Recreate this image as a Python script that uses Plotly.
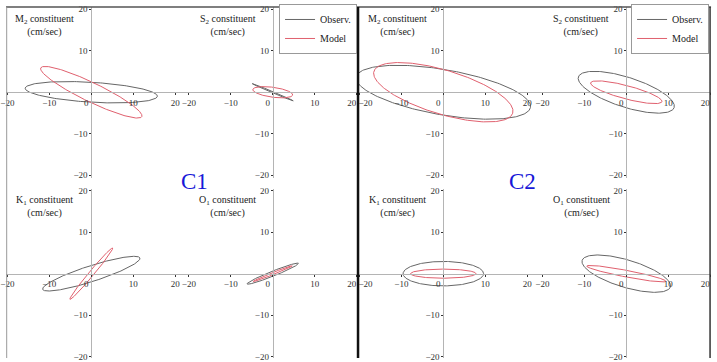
import numpy as np
import plotly.graph_objects as go

# ---------------- data (tidal current ellipse parameters, cm/sec, degrees) ----------------
panel_titles = ["M<sub>2</sub> constituent", "S<sub>2</sub> constituent",
                "M<sub>2</sub> constituent", "S<sub>2</sub> constituent",
                "K<sub>1</sub> constituent", "O<sub>1</sub> constituent",
                "K<sub>1</sub> constituent", "O<sub>1</sub> constituent"]
units_label = "(cm/sec)"
obs_major = [15.8, 5.3, 21.1, 12.0, 12.2, 6.6, 9.6, 11.0]
obs_minor = [2.4, 0.15, 5.45, 3.6, 1.9, 0.6, 2.95, 3.3]
obs_incl = [-3.5, -23.0, -10.0, -18.0, 18.0, 22.0, 0.0, -17.0]
mod_major = [13.4, 4.8, 17.3, 8.8, 8.0, 5.0, 7.8, 9.6]
mod_minor = [2.3, 1.2, 5.3, 1.6, 0.6, 0.25, 1.1, 0.8]
mod_incl = [-26.0, -8.0, -17.0, -15.0, 50.5, 22.0, 0.0, -11.0]
x_tickvals = [-20, -10, 0, 10, 20]
y_tickvals = [-20, -10, 10, 20]
station_labels = ["C1", "C2"]
series_names = ["Observ.", "Model"]

# ---------------- geometry ----------------
W, H = 717, 362
SC = 4.23  # px per unit
col_px = [(0, 177.5, 86), (177.5, 355, 269), (355, 536, 441), (536, 711, 625.5)]
row_px = [(4, 178, 91), (190, 362, 276)]
title_x = [-11.2, -10.7, -11.0, -10.7]

FONT = "Liberation Serif"
OBS_C = "#666666"
MOD_C = "#e0606e"
AX_C = "#b4b4b4"
TICKFONT = dict(family=FONT, size=9, color="#333")


def fmt(v):
    return ("\u2212" if v < 0 else "") + str(abs(v))


def shifted_groups(col):
    """Tick labels that sit slightly off their tick (to clear axes / panel edges)."""
    left = [0] + ([20] if col in (1, 3) else [])
    groups = [(-5, left)]
    if col == 2:
        groups.append((6, [-20]))
    return groups


def ellipse(a, b, inc):
    t = np.linspace(0, 2 * np.pi, 241)
    th = np.deg2rad(inc)
    x = a * np.cos(t) * np.cos(th) - b * np.sin(t) * np.sin(th)
    y = a * np.cos(t) * np.sin(th) + b * np.sin(t) * np.cos(th)
    return x, y


fig = go.Figure()
layout = {}
annotations = []
extra_ax = 9

for i in range(8):
    r, c = divmod(i, 4)
    x0, x1, ox = col_px[c]
    y0, y1, oy = row_px[r]
    n = "" if i == 0 else str(i + 1)
    xr = [-(ox - x0) / SC, (x1 - ox) / SC]
    yr = [-(y1 - oy) / SC, (oy - y0) / SC]
    groups = shifted_groups(c)
    moved = [v for _, vals in groups for v in vals]
    main_vals = [v for v in x_tickvals if v not in moved]
    layout["xaxis" + n] = dict(
        domain=[x0 / W, x1 / W], range=xr, anchor="free", position=1 - oy / H,
        showgrid=False, zeroline=False, showline=True, linecolor=AX_C, linewidth=1,
        ticks="outside", ticklen=2, tickcolor="#333", tickvals=main_vals,
        ticktext=[fmt(v) for v in main_vals], ticklabeloverflow="allow",
        tickfont=TICKFONT, fixedrange=True,
    )
    layout["yaxis" + n] = dict(
        domain=[1 - y1 / H, 1 - y0 / H], range=yr, anchor="free", position=ox / W,
        showgrid=False, zeroline=False, showline=True, linecolor=AX_C, linewidth=1,
        ticks="outside", ticklen=2, tickcolor="#333", tickvals=y_tickvals,
        ticktext=[fmt(v) for v in y_tickvals], ticklabeloverflow="allow",
        tickfont=TICKFONT, fixedrange=True,
    )
    xa, ya = "x" + n, "y" + n
    # overlay axes carrying the nudged tick labels (and their tick marks)
    for shift, vals in groups:
        k = str(extra_ax)
        extra_ax += 1
        layout["xaxis" + k] = dict(
            domain=[x0 / W, x1 / W], range=xr, anchor="free", position=1 - oy / H,
            overlaying=xa, showgrid=False, zeroline=False, showline=False,
            ticks="outside", ticklen=2, tickcolor="#333",
            tickvals=vals, ticktext=[fmt(v) for v in vals], ticklabeloverflow="allow",
            ticklabelshift=shift, tickfont=TICKFONT, fixedrange=True,
        )
        fig.add_trace(go.Scatter(x=[], y=[], xaxis="x" + k, yaxis=ya,
                                 showlegend=False, hoverinfo="skip"))

    legend_id = None
    if i == 1:
        legend_id = "legend"
    elif i == 3:
        legend_id = "legend2"
    ex, ey = ellipse(obs_major[i], obs_minor[i], obs_incl[i])
    fig.add_trace(go.Scatter(x=ex, y=ey, mode="lines", name=series_names[0],
                             line=dict(color=OBS_C, width=1), xaxis=xa, yaxis=ya,
                             showlegend=legend_id is not None,
                             legend=legend_id or "legend", hoverinfo="skip"))
    mx, my = ellipse(mod_major[i], mod_minor[i], mod_incl[i])
    fig.add_trace(go.Scatter(x=mx, y=my, mode="lines", name=series_names[1],
                             line=dict(color=MOD_C, width=1), xaxis=xa, yaxis=ya,
                             showlegend=legend_id is not None,
                             legend=legend_id or "legend", hoverinfo="skip"))
    annotations.append(dict(
        x=title_x[c], y=16.1, xref=xa, yref=ya, showarrow=False,
        text=panel_titles[i] + "<br>" + units_label, align="center",
        font=dict(family=FONT, size=10, color="#222"),
    ))

annotations.append(dict(x=175 / W, y=1 - 182 / H, xref="paper", yref="paper",
                        text=station_labels[0], showarrow=False, borderpad=0,
                        font=dict(family=FONT, size=23, color="#1818d8")))
annotations.append(dict(x=535 / W, y=1 - 182 / H, xref="paper", yref="paper",
                        text=station_labels[1], showarrow=False, borderpad=0,
                        font=dict(family=FONT, size=23, color="#1818d8")))

shapes = [
    dict(type="line", xref="paper", yref="paper", x0=0, x1=711 / W, y0=1 - 4 / H, y1=1 - 4 / H,
         line=dict(color="#555", width=1.5)),
    dict(type="line", xref="paper", yref="paper", x0=0.7 / W, x1=0.7 / W, y0=0, y1=1 - 4 / H,
         line=dict(color="#999", width=1)),
    dict(type="line", xref="paper", yref="paper", x0=355 / W, x1=355 / W, y0=0, y1=1 - 4 / H,
         line=dict(color="#111", width=2.5)),
    dict(type="line", xref="paper", yref="paper", x0=710 / W, x1=710 / W, y0=0, y1=1 - 4 / H,
         line=dict(color="#333", width=1.5)),
]

legend_style = dict(yanchor="top", y=1 - 1 / H, xanchor="right", bgcolor="white",
                    bordercolor="#999", borderwidth=1, itemwidth=30, tracegroupgap=0,
                    font=dict(family=FONT, size=10, color="#222"))

fig.update_layout(
    width=W, height=H, margin=dict(l=0, r=0, t=0, b=0),
    paper_bgcolor="white", plot_bgcolor="white",
    annotations=annotations, shapes=shapes,
    legend=dict(x=354 / W, **legend_style),
    legend2=dict(x=709 / W, **legend_style),
    **layout,
)

fig.write_html("out.html")
